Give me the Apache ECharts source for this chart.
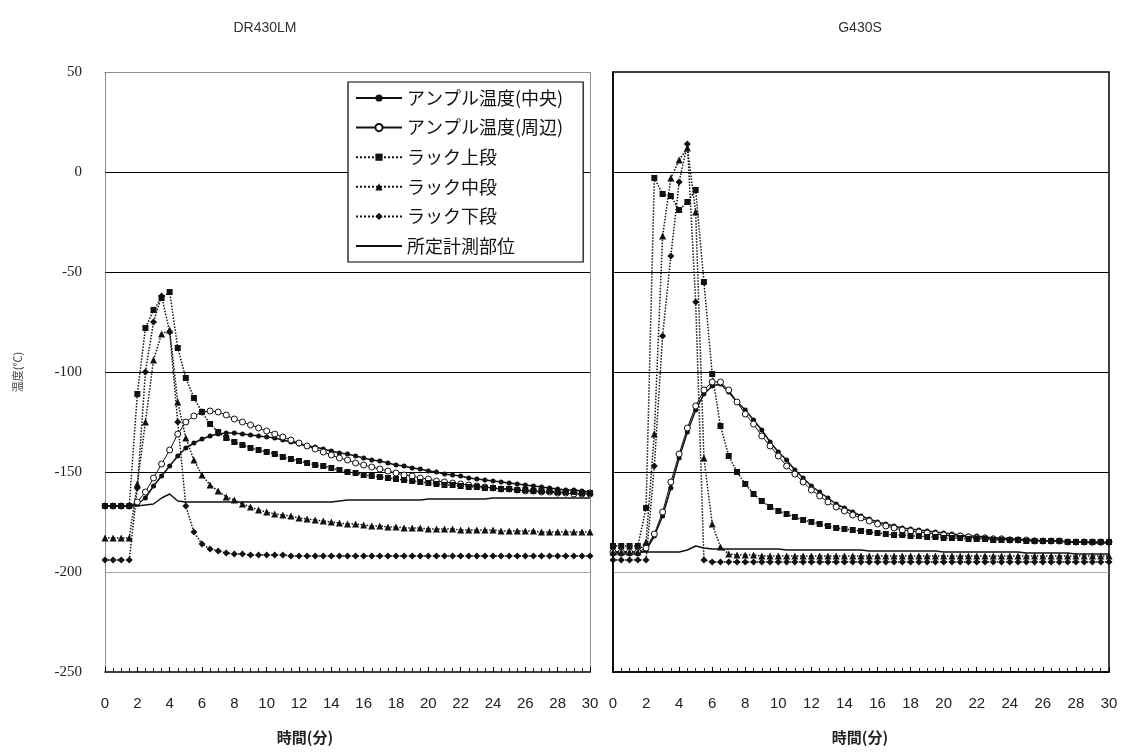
<!DOCTYPE html>
<html>
<head>
<meta charset="utf-8">
<script src="https://cdn.jsdelivr.net/npm/echarts@6/dist/echarts.min.js"></script>
<style>
html,body{margin:0;padding:0;background:#fff;}
#c{width:1130px;height:756px;}
</style>
</head>
<body>
<div id="c"></div>
<script>
// ---- data ----
const TIME = [0,0.5,1,1.5,2,2.5,3,3.5,4,4.5,5,5.5,6,6.5,7,7.5,8,8.5,9,9.5,10,10.5,11,11.5,12,12.5,13,13.5,14,14.5,15,15.5,16,16.5,17,17.5,18,18.5,19,19.5,20,20.5,21,21.5,22,22.5,23,23.5,24,24.5,25,25.5,26,26.5,27,27.5,28,28.5,29,29.5,30];
const SERIES_NAMES = ['アンプル温度(中央)','アンプル温度(周辺)','ラック上段','ラック中段','ラック下段','所定計測部位'];
const PANEL_TITLES = ['DR430LM','G430S'];
const X_TITLE = '時間(分)';
const Y_TITLE = '温度(℃)';

// DR430LM
const L_CENTER = [-167,-167,-167,-167,-166,-163,-157,-152,-147,-142,-138,-135.5,-133.5,-132,-131,-130.5,-130.5,-131,-131.5,-132,-132.5,-133,-134,-135,-136,-137,-137.5,-138.5,-139.5,-140.5,-141,-142,-143,-144,-144.5,-145.5,-146.5,-147,-148,-148.5,-149.5,-150,-151,-151.5,-152,-153,-153.5,-154,-154.5,-155,-155.5,-156,-156.5,-157,-157.5,-158,-158.5,-159,-159,-159.5,-160];
const L_EDGE = [-167,-167,-167,-167,-165,-160,-153,-146,-139,-131,-125,-122,-120,-119.5,-120,-121.5,-123.5,-125,-126.5,-128,-129.5,-131,-132.5,-134,-135.5,-137,-138.5,-140,-141.5,-143,-144,-145.5,-146.5,-147.5,-148.5,-149.5,-150.5,-151.5,-152,-153,-153.5,-154.5,-155,-155.5,-156,-156.5,-157,-157.5,-158,-158.5,-158.5,-159,-159.5,-159.5,-160,-160,-160.5,-160.5,-161,-161,-161];
const L_TOP = [-167,-167,-167,-167,-111,-78,-69,-63,-60,-88,-103,-113,-120,-126,-130,-133,-135,-136.5,-138,-139,-140,-141,-142.5,-143.5,-144.5,-145.5,-146.5,-147,-148,-149,-150,-150.5,-151.5,-152,-152.5,-153,-153.5,-154,-154.5,-155,-155.5,-156,-156.5,-156.5,-157,-157.5,-157.5,-158,-158,-158.5,-158.5,-159,-159,-159.5,-159.5,-159.5,-160,-160,-160,-160.5,-160.5];
const L_MID = [-183,-183,-183,-183,-156,-125,-94,-81,-79,-115,-133,-144,-151.5,-156.5,-159.5,-162.5,-164,-166,-167.5,-169,-170,-171,-171.5,-172,-173,-173.5,-174,-174.5,-175,-175.5,-176,-176,-176.5,-177,-177,-177.5,-177.5,-178,-178,-178,-178.5,-178.5,-178.5,-178.5,-179,-179,-179,-179,-179,-179.5,-179.5,-179.5,-179.5,-179.5,-180,-180,-180,-180,-180,-180,-180];
const L_BOT = [-194,-194,-194,-194,-158,-100,-75,-62,-80,-125,-167,-180,-186,-188.5,-189.5,-190.5,-191,-191,-191.5,-191.5,-191.5,-191.5,-191.5,-192,-192,-192,-192,-192,-192,-192,-192,-192,-192,-192,-192,-192,-192,-192,-192,-192,-192,-192,-192,-192,-192,-192,-192,-192,-192,-192,-192,-192,-192,-192,-192,-192,-192,-192,-192,-192,-192];
const L_MEAS = [-167,-167,-167,-167,-167,-166.5,-166,-163,-161,-164.5,-165,-165,-165,-165,-165,-165,-165,-165,-165,-165,-165,-165,-165,-165,-165,-165,-165,-165,-165,-164.5,-164,-164,-164,-164,-164,-164,-164,-164,-164,-164,-163.5,-163.5,-163.5,-163.5,-163.5,-163.5,-163.5,-163.5,-163,-163,-163,-163,-163,-163,-163,-163,-163,-163,-163,-163,-163];

// G430S
const R_CENTER = [-191,-191,-191,-191,-189,-182,-172,-158,-143,-130,-119,-111,-107,-106,-110,-115,-119,-124,-129,-135,-140,-144,-149,-153,-157,-160,-163,-166,-168,-170,-172,-173.5,-175,-176,-177,-178,-178.5,-179,-179.5,-180,-180.5,-181,-181.5,-182,-182,-182.5,-183,-183,-183.5,-183.5,-184,-184,-184.5,-184.5,-184.5,-185,-185,-185,-185.5,-185.5,-185.5];
const R_EDGE = [-190,-190,-190,-190,-188,-181,-170,-155,-141,-128,-117,-109,-105,-105,-109,-115,-121,-126,-132,-137,-142,-147,-151,-155,-159,-162,-165,-167.5,-169.5,-171.5,-173,-174.5,-176,-177,-178,-179,-179.5,-180,-180.5,-181,-181.5,-182,-182,-182.5,-183,-183,-183.5,-183.5,-184,-184,-184,-184.5,-184.5,-184.5,-184.5,-185,-185,-185,-185,-185,-185];
const R_TOP = [-187,-187,-187,-187,-168,-3,-11,-12,-19,-15,-9,-55,-101,-127,-142,-150,-156,-161,-164.5,-167.5,-169.5,-171,-172.5,-174,-175,-176,-177,-178,-178.5,-179,-179.5,-180,-180.5,-181,-181.5,-181.5,-182,-182,-182.5,-182.5,-183,-183,-183,-183.5,-183.5,-183.5,-184,-184,-184,-184,-184.5,-184.5,-184.5,-184.5,-184.5,-185,-185,-185,-185,-185,-185];
const R_MID = [-190,-190,-190,-190,-185,-131,-32,-3,6,12,-20,-143,-176,-187.5,-191,-191.5,-191.5,-191.5,-192,-192,-192,-192,-192,-192,-192,-192,-192,-192,-192,-192,-192,-192,-192,-192,-192,-192,-192,-192,-192,-192,-192,-192,-192,-192,-192,-192,-192,-192,-192,-192,-192,-192,-192,-192,-192,-192,-192,-192,-192,-192,-192];
const R_BOT = [-194,-194,-194,-194,-194,-147,-82,-42,-5,14,-65,-194,-195,-195,-195,-195,-195,-195,-195,-195,-195,-195,-195,-195,-195,-195,-195,-195,-195,-195,-195,-195,-195,-195,-195,-195,-195,-195,-195,-195,-195,-195,-195,-195,-195,-195,-195,-195,-195,-195,-195,-195,-195,-195,-195,-195,-195,-195,-195,-195,-195];
const R_MEAS = [-190,-190,-190,-190,-190,-190,-190,-190,-190,-189,-187,-188,-188.5,-188.5,-188.5,-188.5,-188.5,-188.5,-188.5,-188.5,-188.5,-189,-189,-189,-189,-189,-189,-189,-189,-189,-189,-189.5,-189.5,-189.5,-189.5,-189.5,-189.5,-189.5,-189.5,-189.5,-190,-190,-190,-190,-190,-190,-190,-190,-190,-190,-190.5,-190.5,-190.5,-190.5,-190.5,-190.5,-191,-191,-191,-191,-191];

// ---- chart ----
const INK = '#111';
const STYLES = [
  {symbol:'circle', symbolSize:5, type:'solid', width:1.5, fill:INK, border:0},
  {symbol:'circle', symbolSize:6, type:'solid', width:1, fill:'#fff', border:1},
  {symbol:'rect', symbolSize:6, type:'dotted', width:1.5, fill:INK, border:0},
  {symbol:'triangle', symbolSize:7, type:'dotted', width:1.5, fill:INK, border:0},
  {symbol:'diamond', symbolSize:7, type:'dotted', width:1.5, fill:INK, border:0},
  {symbol:'none', symbolSize:0, type:'solid', width:1.5, fill:INK, border:0}
];
const LEFT = [L_CENTER, L_EDGE, L_TOP, L_MID, L_BOT, L_MEAS];
const RIGHT = [R_CENTER, R_EDGE, R_TOP, R_MID, R_BOT, R_MEAS];

function mk(arrs, xi, yi) {
  return arrs.map((arr, k) => {
    const s = STYLES[k];
    return {
      name: SERIES_NAMES[k], type: 'line', xAxisIndex: xi, yAxisIndex: yi,
      data: TIME.map((t, i) => [t, arr[i]]),
      symbol: s.symbol === 'none' ? 'circle' : s.symbol,
      symbolSize: s.symbolSize, showSymbol: s.symbol !== 'none',
      lineStyle: {color: INK, width: s.width, type: s.type},
      itemStyle: {color: s.fill, borderColor: INK, borderWidth: s.border},
      emphasis: {disabled: true}, z: 3
    };
  });
}

const legendData = SERIES_NAMES.map((n, k) => k === 5
  ? {name: n, itemStyle: {opacity: 0}}
  : {name: n});

const font = 'Liberation Sans, Arial, sans-serif';
const yBase = {type:'value', min:-250, max:50, interval:50};
const xBase = {type:'value', min:0, max:30, interval:2};
const xAxisCommon = {
  axisLine:{show:true, onZero:false, lineStyle:{color:'#000', width:1.5}},
  axisTick:{show:true, inside:true, length:5, lineStyle:{color:'#000'}},
  minorTick:{show:true, splitNumber:4, length:4, lineStyle:{color:'#222'}},
  axisLabel:{fontSize:15, color:'#222', margin:24, fontFamily:font},
  splitLine:{show:false}
};
const splitColors = ['#aaa','#000','#000','#000','#000'];

const chart = echarts.init(document.getElementById('c'), null, {renderer:'canvas'});
chart.setOption({
  animation: false,
  backgroundColor: '#fff',
  grid: [
    {left:105, top:72, width:485, height:600, show:false},
    {left:613, top:72, width:496, height:600, show:true, borderColor:'#000', borderWidth:1.5, backgroundColor:'transparent'}
  ],
  legend: {
    data: legendData, orient:'vertical', left:348, top:82,
    padding:[7, 20, 7, 7], itemWidth:46, itemHeight:9, itemGap:11.6,
    backgroundColor:'#fff', borderColor:'#000', borderWidth:1.2,
    textStyle:{fontSize:18, color:INK, fontFamily:'Noto Sans CJK JP'},
    selectedMode:false, z:10
  },
  xAxis: [
    Object.assign({}, xBase, xAxisCommon, {gridIndex:0, position:'bottom'}),
    Object.assign({}, xBase, xAxisCommon, {gridIndex:1, position:'bottom'}),
    Object.assign({}, xBase, {gridIndex:0, position:'top',
      axisLine:{show:true, onZero:false, lineStyle:{color:'#777', width:1, type:'dotted'}},
      axisTick:{show:false}, axisLabel:{show:false}, splitLine:{show:false}})
  ],
  yAxis: [
    Object.assign({}, yBase, {gridIndex:0,
      axisLine:{show:true, onZero:false, lineStyle:{color:'#777', width:1, type:'dotted'}},
      axisTick:{show:false},
      axisLabel:{fontSize:15, color:'#222', margin:23, fontFamily:'Liberation Serif, Times New Roman, serif'},
      splitLine:{show:true, showMinLine:false, showMaxLine:false, lineStyle:{color:splitColors, width:1}}}),
    Object.assign({}, yBase, {gridIndex:1,
      axisLine:{show:true, onZero:false, lineStyle:{color:'#000', width:1.5}},
      axisTick:{show:false}, axisLabel:{show:false},
      splitLine:{show:true, showMinLine:false, showMaxLine:false, lineStyle:{color:splitColors, width:1}}}),
    Object.assign({}, yBase, {gridIndex:0, position:'right',
      axisLine:{show:true, onZero:false, lineStyle:{color:'#777', width:1, type:'dotted'}},
      axisTick:{show:false}, axisLabel:{show:false}, splitLine:{show:false}})
  ],
  graphic: [
    {type:'text', x:265, y:28, style:{text:PANEL_TITLES[0], fontSize:14, fill:'#333', fontFamily:font, textAlign:'center', textVerticalAlign:'middle'}},
    {type:'text', x:860, y:28, style:{text:PANEL_TITLES[1], fontSize:14, fill:'#333', fontFamily:font, textAlign:'center', textVerticalAlign:'middle'}},
    {type:'text', x:305, y:737, style:{text:X_TITLE, fontSize:15, fontWeight:'bold', fill:'#222', fontFamily:'Noto Sans CJK JP', textAlign:'center', textVerticalAlign:'middle'}},
    {type:'text', x:860, y:737, style:{text:X_TITLE, fontSize:15, fontWeight:'bold', fill:'#222', fontFamily:'Noto Sans CJK JP', textAlign:'center', textVerticalAlign:'middle'}},
    {type:'text', x:18, y:372, rotation:Math.PI/2, style:{text:Y_TITLE, fontSize:11, fill:'#444', fontFamily:'Noto Sans CJK JP', textAlign:'center', textVerticalAlign:'middle'}}
  ],
  series: mk(LEFT, 0, 0).concat(mk(RIGHT, 1, 1))
});
</script>
</body>
</html>
